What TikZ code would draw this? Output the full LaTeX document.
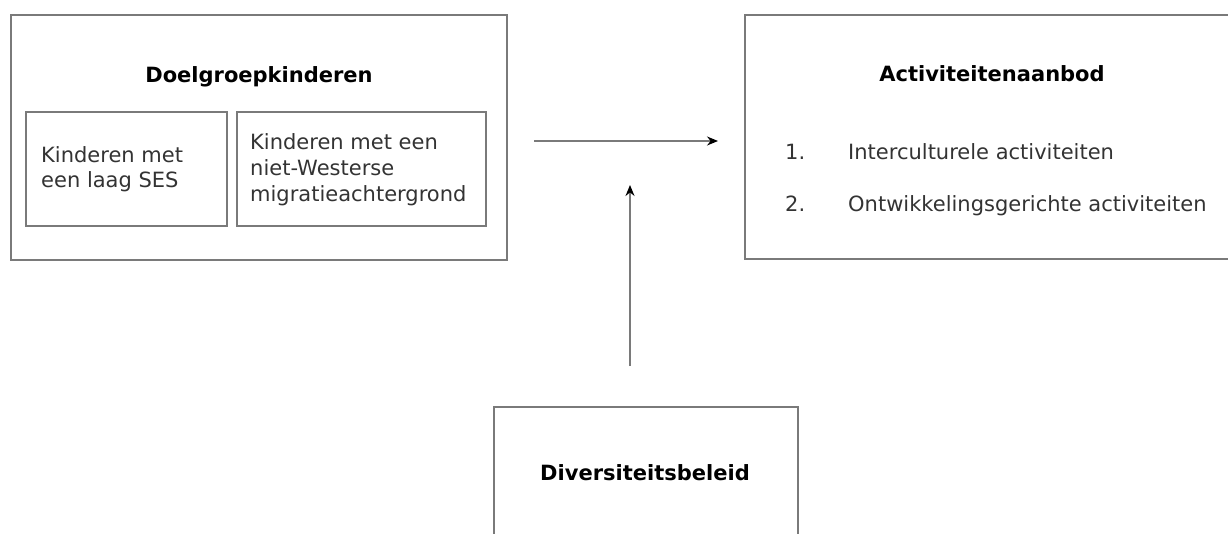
\documentclass[tikz,border=0pt]{standalone}
\usepackage{fontspec}
\setmainfont{DejaVu Sans}
\usetikzlibrary{arrows.meta}
\definecolor{boxgray}{HTML}{7A7A7A}
\begin{document}
\begin{tikzpicture}[x=1pt,y=-1pt,
  frame/.style={draw=boxgray,line width=1.8pt,inner sep=0pt,anchor=north west},
  title/.style={font=\fontsize{21}{26}\selectfont\bfseries,inner sep=0pt,anchor=base},
  txt/.style={font=\fontsize{21}{26}\selectfont,inner sep=0pt,anchor=base west,text=black!80},
  conn/.style={draw=boxgray,line width=1.6pt,-{Stealth[length=11pt,width=9pt,color=black]}}]
\useasboundingbox (0,0) rectangle (1228,534);
\clip (0,0) rectangle (1228,534);
% boxes
\node[frame,minimum width=496pt,minimum height=245pt] (dk) at (10,14) {};
\node[frame,minimum width=201pt,minimum height=114pt] (ses) at (25,111) {};
\node[frame,minimum width=249pt,minimum height=114pt] (mig) at (236,111) {};
\node[frame,minimum width=500pt,minimum height=244pt] (aa) at (744,14) {};
\node[frame,minimum width=304pt,minimum height=160pt] (db) at (493,406) {};
% titles
\node[title] (dkt) at (259,83) {Doelgroepkinderen};
\node[title] (aat) at (992,82) {Activiteitenaanbod};
\node[title] (dbt) at (645,480) {Diversiteitsbeleid};
% inner texts
\node[txt] (s1) at (41,163) {Kinderen met};
\node[txt] (s2) at (41,188) {een laag SES};
\node[txt] (m1) at (250,150) {Kinderen met een};
\node[txt] (m2) at (250,176) {niet-Westerse};
\node[txt] (m3) at (250,202) {migratieachtergrond};
% list
\node[txt] (n1) at (785,160) {1.};
\node[txt] (l1) at (848,160) {Interculturele activiteiten};
\node[txt] (n2) at (785,212) {2.};
\node[txt] (l2) at (848,212) {Ontwikkelingsgerichte activiteiten};
% connectors
\coordinate (hs) at (534,141);
\coordinate (he) at (718,141);
\coordinate (vs) at (630,366);
\coordinate (ve) at (630,185);
\draw[conn] (hs) -- (he);
\draw[conn] (vs) -- (ve);
\end{tikzpicture}
\end{document}
